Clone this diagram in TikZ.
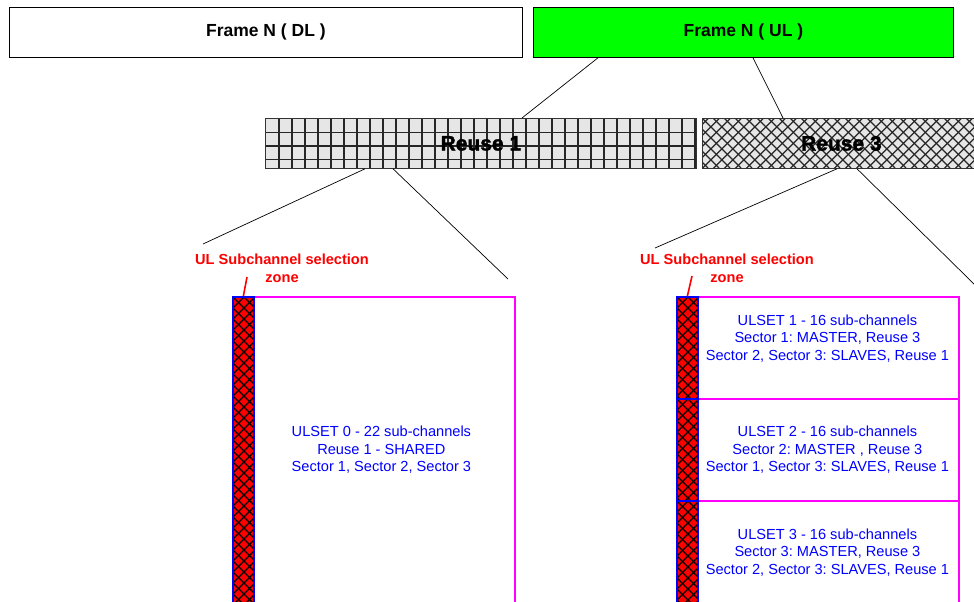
\documentclass[tikz,border=0pt]{standalone}
\usepackage{fontspec}
\setmainfont{Liberation Sans}
\newfontfamily\reusefont[FakeBold=1.5]{Liberation Sans Bold}
\usetikzlibrary{calc,backgrounds}
\frenchspacing
\definecolor{ulgreen}{RGB}{0,255,0}
\definecolor{boxgray}{RGB}{230,230,230}
\definecolor{mag}{RGB}{255,0,255}
\definecolor{setblue}{RGB}{0,0,255}
\definecolor{zonered}{RGB}{255,0,0}
\tikzset{
  framebox/.style={draw=black, line width=0.8pt, minimum height=50pt, inner sep=0pt, anchor=north west, font=\bfseries\fontsize{17.5}{20}\selectfont},
  reusebox/.style={draw=black!80, line width=0.8pt, minimum height=50pt, inner sep=0pt, anchor=north west, font=\reusefont\fontsize{21}{24}\selectfont},
  patline/.style={line width=1.4pt, black!85},
  hatchline/.style={line width=1.1pt, black},
  stripcell/.style={draw=setblue, line width=1.8pt, minimum width=21pt, inner sep=0pt, anchor=north west},
  setbox/.style={draw=mag, line width=1.8pt, inner sep=0pt, anchor=north west},
  settext/.style={text=setblue, align=center, inner sep=0pt, font=\fontsize{14.6}{17.5}\selectfont},
  zonelabel/.style={text=zonered, align=center, inner sep=0pt, font=\bfseries\fontsize{14.6}{18}\selectfont},
  conn/.style={draw=black, line width=0.7pt},
  pointer/.style={draw=zonered, line width=1.6pt}
}
\newcommand{\hatchcell}[1]{%
  \begin{scope}
    \fill[zonered] (#1.north west) rectangle (#1.south east);
    \clip (#1.north west) rectangle (#1.south east);
    \foreach \c in {-330,-319,...,30} {
      \draw[hatchline] ([xshift=\c pt]#1.north west) -- ++(310,310);
      \draw[hatchline] ([xshift=\c pt+310pt]#1.north west) -- ++(-310,310);}
  \end{scope}}
\begin{document}
\begin{tikzpicture}[x=1pt,y=-1pt]
\useasboundingbox (0,0) rectangle (974,602);
\clip (0,0) rectangle (974,602);

% frames
\node[framebox, minimum width=513pt] (dl) at (9,7) {Frame N ( DL )};
\node[framebox, minimum width=420pt, fill=ulgreen] (ul) at (533,7) {Frame N ( UL )};

% reuse boxes
\node[reusebox, minimum width=431pt] (r1) at (265,118) {Reuse 1};
\node[reusebox, minimum width=290pt] (r3) at (702,118) {\hspace*{-12pt}Reuse 3};
\begin{scope}[on background layer]
  \fill[boxgray] (r1.north west) rectangle (r1.south east);
  \begin{scope}
    \clip (r1.north west) rectangle (r1.south east);
    \foreach \i in {14,27,...,430} \draw[patline] ([xshift=\i pt]r1.north west) -- ([xshift=\i pt]r1.south west);
    \foreach \j in {14.7,28,41.3} \draw[patline] ([yshift=-\j pt]r1.north west) -- ([yshift=-\j pt]r1.north east);
  \end{scope}
  \fill[boxgray] (r3.north west) rectangle (r3.south east);
  \begin{scope}
    \clip (r3.north west) rectangle (r3.south east);
    \foreach \c in {-55,-44,...,330} {
      \draw[patline, line width=1.3pt] ([xshift=\c pt]r3.north west) -- ++(50,50);
      \draw[patline, line width=1.3pt] ([xshift=\c pt]r3.south west) -- ++(50,-50);}
  \end{scope}
\end{scope}

% connectors frame -> reuse
\draw[conn] ($(ul.south west)+(65,0)$) -- ($(r1.north west)+(257,0)$);
\draw[conn] ($(ul.south west)+(220,0)$) -- ($(r3.north west)+(81,0)$);

% free ends
\coordinate (e1) at (203,244);
\coordinate (e2) at (508,279);
\coordinate (e3) at (655,248);
\coordinate (e4) at (976,286);
\draw[conn] ($(r1.south west)+(100,0)$) -- (e1);
\draw[conn] ($(r1.south west)+(128,0)$) -- (e2);
\draw[conn] ($(r3.south west)+(135,0)$) -- (e3);
\draw[conn] ($(r3.south west)+(155,0)$) -- (e4);

% left block
\node[setbox, minimum width=261pt, minimum height=306pt] (b0) at (253,296) {};
\node[stripcell, minimum height=306pt] (s0) at (232,296) {};
\node[settext] (t0) at ($(b0.center)+(-3,0)$) {ULSET 0 - 22 sub-channels\\Reuse 1 - SHARED\\Sector 1, Sector 2, Sector 3};

% right block
\node[setbox, minimum width=261pt, minimum height=102pt] (b1) at (697,296) {};
\node[setbox, minimum width=261pt, minimum height=102pt] (b2) at (697,398) {};
\node[setbox, minimum width=261pt, minimum height=102pt] (b3) at (697,500) {};
\node[stripcell, minimum height=102pt] (s1) at (676,296) {};
\node[stripcell, minimum height=102pt] (s2) at (676,398) {};
\node[stripcell, minimum height=102pt] (s3) at (676,500) {};
\node[settext] (t1) at ($(b1.center)+(-1,-9.5)$) {ULSET 1 - 16 sub-channels\\Sector 1: MASTER, Reuse 3\\Sector 2, Sector 3: SLAVES, Reuse 1};
\node[settext] (t2) at ($(b2.center)+(-1,0)$) {ULSET 2 - 16 sub-channels\\Sector 2: MASTER , Reuse 3\\Sector 1, Sector 3: SLAVES, Reuse 1};
\node[settext] (t3) at ($(b3.center)+(-1,0.5)$) {ULSET 3 - 16 sub-channels\\Sector 3: MASTER, Reuse 3\\Sector 2, Sector 3: SLAVES, Reuse 1};

\begin{scope}[on background layer]
  \hatchcell{s0}
  \hatchcell{s1}
  \hatchcell{s2}
  \hatchcell{s3}
\end{scope}

% zone labels
\node[zonelabel] (z0) at (282,268) {UL Subchannel selection\\zone};
\node[zonelabel] (z1) at (727,268) {UL Subchannel selection\\zone};
\coordinate (p0) at (247,277);
\coordinate (p1) at (692,276);
\draw[pointer] (p0) -- (s0.north);
\draw[pointer] (p1) -- (s1.north);
\end{tikzpicture}
\end{document}
